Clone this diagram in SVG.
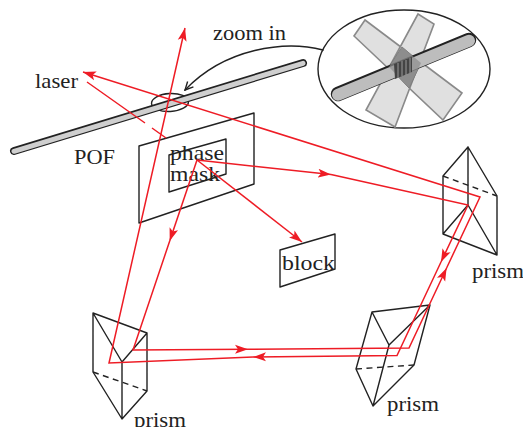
<svg xmlns="http://www.w3.org/2000/svg" width="523" height="427" viewBox="0 0 523 427">
<style>
.k{fill:none;stroke:#222;stroke-width:1.4;stroke-linejoin:round;stroke-linecap:round}
.d{stroke-dasharray:6 4.500;stroke-linecap:butt}
.r{fill:none;stroke:#ee1c25;stroke-width:1.5;stroke-linejoin:miter}
.t{font-family:"Liberation Serif","DejaVu Serif",serif;font-size:22px;fill:#222}
.s{fill:#e0e0e0;stroke:#8a8a8a;stroke-width:1.6}
</style>
<defs>
<marker id="ah" viewBox="0 0 14 10" refX="13" refY="5" markerWidth="14" markerHeight="10" markerUnits="userSpaceOnUse" orient="auto"><path d="M0 0.500L13 5L0 9.500L3 5Z" fill="#ee1c25"/></marker>
<marker id="oa" viewBox="0 0 10 10" refX="9" refY="5" markerWidth="10" markerHeight="10" markerUnits="userSpaceOnUse" orient="auto"><path d="M1 1L9 5L1 9" fill="none" stroke="#222" stroke-width="1.400"/></marker>
</defs>
<g id="fiber">
<ellipse class="k" cx="170" cy="102.500" rx="18.500" ry="9" transform="rotate(-3 170 102.500)"/>
<line x1="14" y1="151" x2="303" y2="63" stroke="#222" stroke-width="8" stroke-linecap="round"/>
<line x1="14" y1="151.300" x2="303" y2="63.300" stroke="#cfcfcf" stroke-width="5" stroke-linecap="round"/>
</g>
<g id="phase-mask">
<path class="k" d="M139 146L254 113V184L139 223Z"/>
<path class="k" d="M169 155L226 139V174L169 192Z"/>
<text class="t" x="170" y="160" textLength="54" lengthAdjust="spacingAndGlyphs">phase</text>
<text class="t" x="170" y="181" textLength="50" lengthAdjust="spacingAndGlyphs">mask</text>
</g>
<g id="block">
<path class="k" d="M280 250L335 234V269L280 287Z"/>
<text class="t" x="282" y="270" textLength="53" lengthAdjust="spacingAndGlyphs">block</text>
</g>
<g id="prism-left">
<path class="k" d="M93 313L147 333L122 362ZM93 313V372M147 333V391M122 362V419M93 372L122 419L147 391"/>
<path class="k d" d="M93 372L147 391"/>
<text class="t" x="134" y="427" textLength="52" lengthAdjust="spacingAndGlyphs">prism</text>
</g>
<g id="prism-right">
<path class="k" d="M468 147L443 176M468 147L497 196M468 147V205M443 176V234M497 196V255M468 205L443 234L497 255L468 205"/>
<path class="k d" d="M443 176L497 196"/>
<text class="t" x="472" y="278" textLength="52" lengthAdjust="spacingAndGlyphs">prism</text>
</g>
<g id="prism-bottom">
<path class="k" d="M372 312L430 305L389 345L372 312L356 369L373 406L414 365L430 305M389 345L373 406"/>
<path class="k d" d="M356 369L414 365"/>
<text class="t" x="387" y="411" textLength="52" lengthAdjust="spacingAndGlyphs">prism</text>
</g>
<g id="connectors">
<path class="r" d="M87 82L145 123M152 128L166 138"/>
<path class="r" d="M197 160L331 174.500" marker-end="url(#ah)"/>
<path class="r" d="M331 174.500L468 205L441 262" marker-end="url(#ah)"/>
<path class="r" d="M441 262L397 355.500L253 357" marker-end="url(#ah)"/>
<path class="r" d="M253 357L109 363L185 28" marker-end="url(#ah)"/>
<path class="r" d="M197 160L169.700 241" marker-end="url(#ah)"/>
<path class="r" d="M169.700 241L133 350L248 349.200" marker-end="url(#ah)"/>
<path class="r" d="M248 349.200L409 348L446.600 268" marker-end="url(#ah)"/>
<path class="r" d="M446.600 268L480 197L83 72" marker-end="url(#ah)"/>
<path class="r" d="M197 160L302 242" marker-end="url(#ah)"/>
</g>
<g id="zoom-in">
<text class="t" x="213" y="40" textLength="73" lengthAdjust="spacingAndGlyphs">zoom in</text>
<path class="k" d="M323 50C285 40 225 48 185 90" marker-end="url(#oa)"/>
<ellipse class="k" cx="404" cy="69" rx="86" ry="59"/>
<path class="s" d="M365 20L354 36L443 120L462 93Z"/>
<path class="s" d="M418 14L434 24L395 127L366 110Z"/>
<path d="M402 47L389 67L409 88L421 63Z" fill="#8d8d8d" stroke="#777" stroke-width="1"/>
<path d="M338 94L469 40" stroke="#222" stroke-width="14.500" stroke-linecap="round"/>
<path d="M338 94.800L469 40.800" stroke="#bdbdbd" stroke-width="12" stroke-linecap="round"/>
<path d="M402 47L389 67L409 88L421 63Z" fill="#8d8d8d" fill-opacity="0.700" stroke="none"/>
<path d="M394 64L412 57V72L395 79Z" fill="#444"/>
<path d="M398 63V78M402 61V76M406 60V75M410 58V73" stroke="#999" stroke-width="1"/>
</g>
<text class="t" x="35" y="88" textLength="43" lengthAdjust="spacingAndGlyphs">laser</text>
<text class="t" x="74" y="164" textLength="41" lengthAdjust="spacingAndGlyphs">POF</text>
</svg>
